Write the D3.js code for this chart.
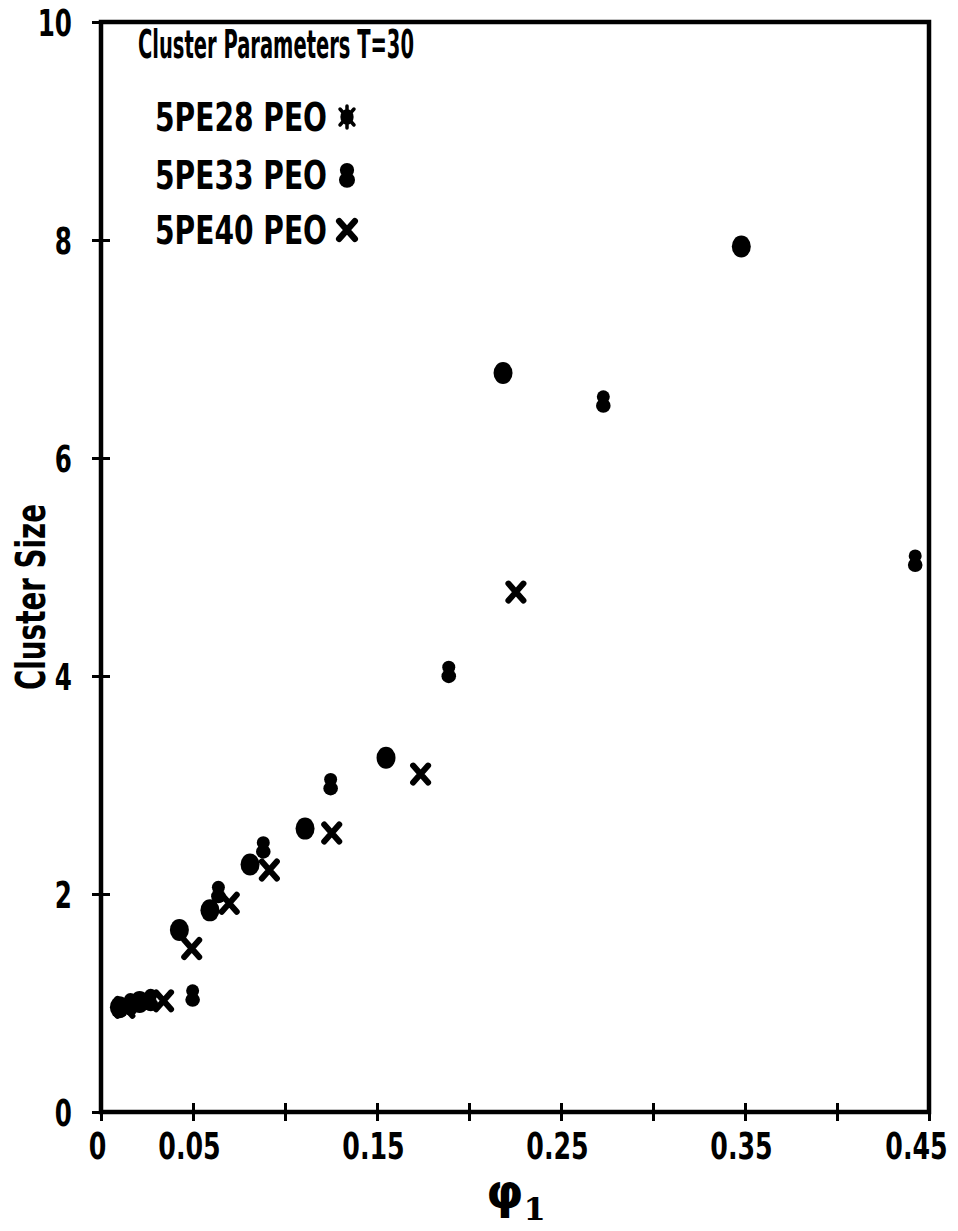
<!DOCTYPE html>
<html><head><meta charset="utf-8">
<script src="https://cdn.jsdelivr.net/npm/d3@7"></script>
<style>
html,body{margin:0;padding:0;background:#fff;}
svg{display:block;}
text{font-family:"Liberation Sans Narrow","DejaVu Sans Condensed","Arial Narrow",sans-serif;font-weight:bold;fill:#000;}
</style></head><body>
<svg id="chart" width="958" height="1231"></svg>
<script>
// ---- data ----
const seriesNames = ["5PE28 PEO", "5PE33 PEO", "5PE40 PEO"];
const pe28Phi  = [0.010, 0.021, 0.0426, 0.0592, 0.081, 0.1109, 0.1549, 0.2185, 0.348];
const pe28Size = [0.96, 1.01, 1.67, 1.85, 2.27, 2.60, 3.25, 6.78, 7.94];
const pe33Phi  = [0.016, 0.027, 0.0498, 0.0638, 0.0882, 0.1248, 0.189, 0.273, 0.4425];
const pe33Size = [0.99, 1.03, 1.07, 2.02, 2.43, 3.01, 4.04, 6.52, 5.06];
const pe40Phi  = [0.013, 0.034, 0.0493, 0.0697, 0.0915, 0.1254, 0.1737, 0.2255];
const pe40Size = [0.96, 1.02, 1.50, 1.915, 2.22, 2.56, 3.10, 4.77];
const xTickValues = [0, 0.05, 0.10, 0.15, 0.20, 0.25, 0.30, 0.35, 0.40, 0.45];
const xTickLabels = ["0", "0.05", "", "0.15", "", "0.25", "", "0.35", "", "0.45"];
const yTickValues = [0, 2, 4, 6, 8, 10];
const yTickLabels = ["0", "2", "4", "6", "8", "10"];
const legendTitle = "Cluster Parameters T=30";
const yAxisTitle = "Cluster Size";
const xAxisSymbol = "φ";
const xAxisSub = "1";

// ---- layout ----
const svg = d3.select("#chart");
const x = d3.scaleLinear().domain([0, 0.45]).range([101, 929]);
const y = d3.scaleLinear().domain([0, 10]).range([1112, 22]);

// markers
function blob(g, cx, cy, s) {
  g.append("ellipse").attr("cx", cx).attr("cy", cy).attr("rx", 9.5 * s).attr("ry", 11 * s).attr("fill", "#000");
}
function eight(g, cx, cy, s) {
  g.append("ellipse").attr("cx", cx).attr("cy", cy - 4.5 * s).attr("rx", 6.5 * s).attr("ry", 6.5 * s).attr("fill", "#000");
  g.append("ellipse").attr("cx", cx).attr("cy", cy + 4.5 * s).attr("rx", 7.3 * s).attr("ry", 7 * s).attr("fill", "#000");
  g.append("rect").attr("x", cx - 4.5 * s).attr("y", cy - 3 * s).attr("width", 9 * s).attr("height", 6 * s).attr("fill", "#000");
}
function cross(g, cx, cy, s) {
  const w = 7.5 * s, h = 8.5 * s;
  g.append("path")
    .attr("d", `M${cx - w},${cy - h}L${cx + w},${cy + h}M${cx + w},${cy - h}L${cx - w},${cy + h}`)
    .attr("stroke", "#000").attr("stroke-width", 6 * s).attr("stroke-linecap", "round").attr("fill", "none");
}

// frame
svg.append("rect")
  .attr("x", x(0)).attr("y", y(10))
  .attr("width", x(0.45) - x(0)).attr("height", y(0) - y(10))
  .attr("fill", "none").attr("stroke", "#000").attr("stroke-width", 4.5);

// x axis
const gx = svg.append("g").attr("transform", `translate(0,${y(0)})`)
  .call(d3.axisBottom(x).tickValues(xTickValues).tickFormat((d, i) => xTickLabels[i]).tickSize(9));
gx.select(".domain").remove();
gx.selectAll(".tick line").attr("y1", -9).attr("y2", 9).attr("stroke", "#000").attr("stroke-width", 3);
gx.selectAll(".tick text")
  .attr("x", 0).attr("y", 0).attr("dy", 0)
  .attr("transform", (d, i) => `translate(${i === xTickValues.length - 1 ? -13 : -4},47) scale(0.74,1)`)
  .style("font-size", "38px").attr("fill", "#000");

// y axis
const gy = svg.append("g").attr("transform", `translate(${x(0)},0)`)
  .call(d3.axisLeft(y).tickValues(yTickValues).tickFormat((d, i) => yTickLabels[i]).tickSize(9));
gy.select(".domain").remove();
gy.selectAll(".tick line").attr("x1", -9).attr("x2", 9).attr("stroke", "#000").attr("stroke-width", 3);
gy.selectAll(".tick text")
  .attr("x", 0).attr("dy", 0)
  .attr("transform", "translate(-29,13) scale(0.72,1)")
  .style("font-size", "38px").attr("fill", "#000");

// data points
const pts = svg.append("g");
pe28Phi.forEach((p, i) => blob(pts, x(p), y(pe28Size[i]), 1));
pe33Phi.forEach((p, i) => eight(pts, x(p), y(pe33Size[i]), 1));
pe40Phi.forEach((p, i) => cross(pts, x(p), y(pe40Size[i]), 1));

// legend
const lg = svg.append("g");
lg.append("text").attr("x", 138).attr("y", 58).style("font-size", "39px")
  .attr("textLength", 276).attr("lengthAdjust", "spacingAndGlyphs").text(legendTitle);
const legY = [131, 189, 244];
const legMark = [
  (g, cx, cy) => {
    blob(g, cx, cy, 0.7);
    g.append("path").attr("d", `M${cx-7},${cy-8}L${cx+7},${cy+8}M${cx+7},${cy-8}L${cx-7},${cy+8}M${cx},${cy-11}L${cx},${cy+11}`)
      .attr("stroke", "#000").attr("stroke-width", 3.5).attr("stroke-linecap", "round");
  },
  (g, cx, cy) => eight(g, cx, cy, 1.1),
  (g, cx, cy) => cross(g, cx, cy, 1.05)
];
seriesNames.forEach((nm, i) => {
  lg.append("text").attr("x", 155).attr("y", legY[i]).style("font-size", "39px")
    .attr("textLength", 172).attr("lengthAdjust", "spacingAndGlyphs").text(nm);
  legMark[i](lg, 347, legY[i] - 14);
});

// y title
svg.append("text")
  .attr("transform", "translate(45,597) rotate(-90)")
  .attr("text-anchor", "middle").style("font-size", "40px")
  .attr("textLength", 186).attr("lengthAdjust", "spacingAndGlyphs")
  .text(yAxisTitle);

// x title
const xt = svg.append("text").attr("x", 486).attr("y", 1208)
  .style("font-family", "'DejaVu Sans',sans-serif").style("font-size", "48px");
xt.append("tspan").text(xAxisSymbol);
xt.append("tspan").attr("dy", 12).style("font-family", "'DejaVu Serif',serif").style("font-size", "32px").text(xAxisSub);
</script>
</body></html>
